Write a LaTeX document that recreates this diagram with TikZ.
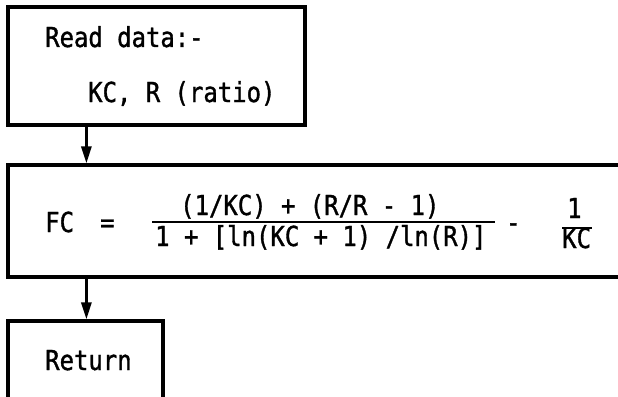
\documentclass[tikz,border=0pt]{standalone}
\usepackage{fontspec}
\newfontfamily\tw[FakeStretch=0.87,FakeBold=1.2]{DejaVu Sans Mono}
\usetikzlibrary{arrows.meta}
\tikzset{
  flowbox/.style={draw=black, line width=3.2pt, inner sep=0pt, fill=none},
  txt/.style={font=\tw\fontsize{27.5}{32}\selectfont, inner sep=0pt, anchor=base west, text=black},
  arr/.style={draw=black, line width=2.8pt, -{Triangle[length=17pt,width=10pt]}},
  fracline/.style={draw=black, line width=2.6pt}
}
\begin{document}
\begin{tikzpicture}[x=1pt,y=-1pt]
\clip (0,0) rectangle (618,396);
\fill[white] (0,0) rectangle (618,396);
% boxes
\node[flowbox, minimum width=297pt, minimum height=118pt] (read) at (156.5,66) {};
\node[flowbox, minimum width=632pt, minimum height=112pt] (calc) at (324,221) {};
\node[flowbox, minimum width=155pt, minimum height=100pt] (ret) at (85.5,371) {};
% texts
\node[txt] (t1) at (45,47) {Read data:-};
\node[txt] (t2) at (88,102) {KC, R (ratio)};
\node[txt] (fc) at (45,232) {FC};
\node[txt] (eq) at (100,232) {=};
\node[txt] (num) at (180,215) {(1/KC) + (R/R - 1)};
\node[txt] (den) at (155,246) {1 + [ln(KC + 1) /ln(R)]};
\node[txt] (minus) at (506,232) {-};
\node[txt] (one) at (567,218) {1};
\node[txt] (kc) at (562,248) {KC};
\node[txt] (rt) at (45,370) {Return};
% fraction lines
\coordinate (f1a) at (152,222);
\coordinate (f1b) at (495,222);
\coordinate (f2a) at (562,228);
\coordinate (f2b) at (592,228);
\draw[fracline] (f1a) -- (f1b);
\draw[fracline] (f2a) -- (f2b);
% connectors
\draw[arr] ([xshift=80pt]read.south west) -- ([xshift=80pt]calc.north west);
\draw[arr] ([xshift=80pt]calc.south west) -- ([xshift=80pt]ret.north west);
\end{tikzpicture}
\end{document}
